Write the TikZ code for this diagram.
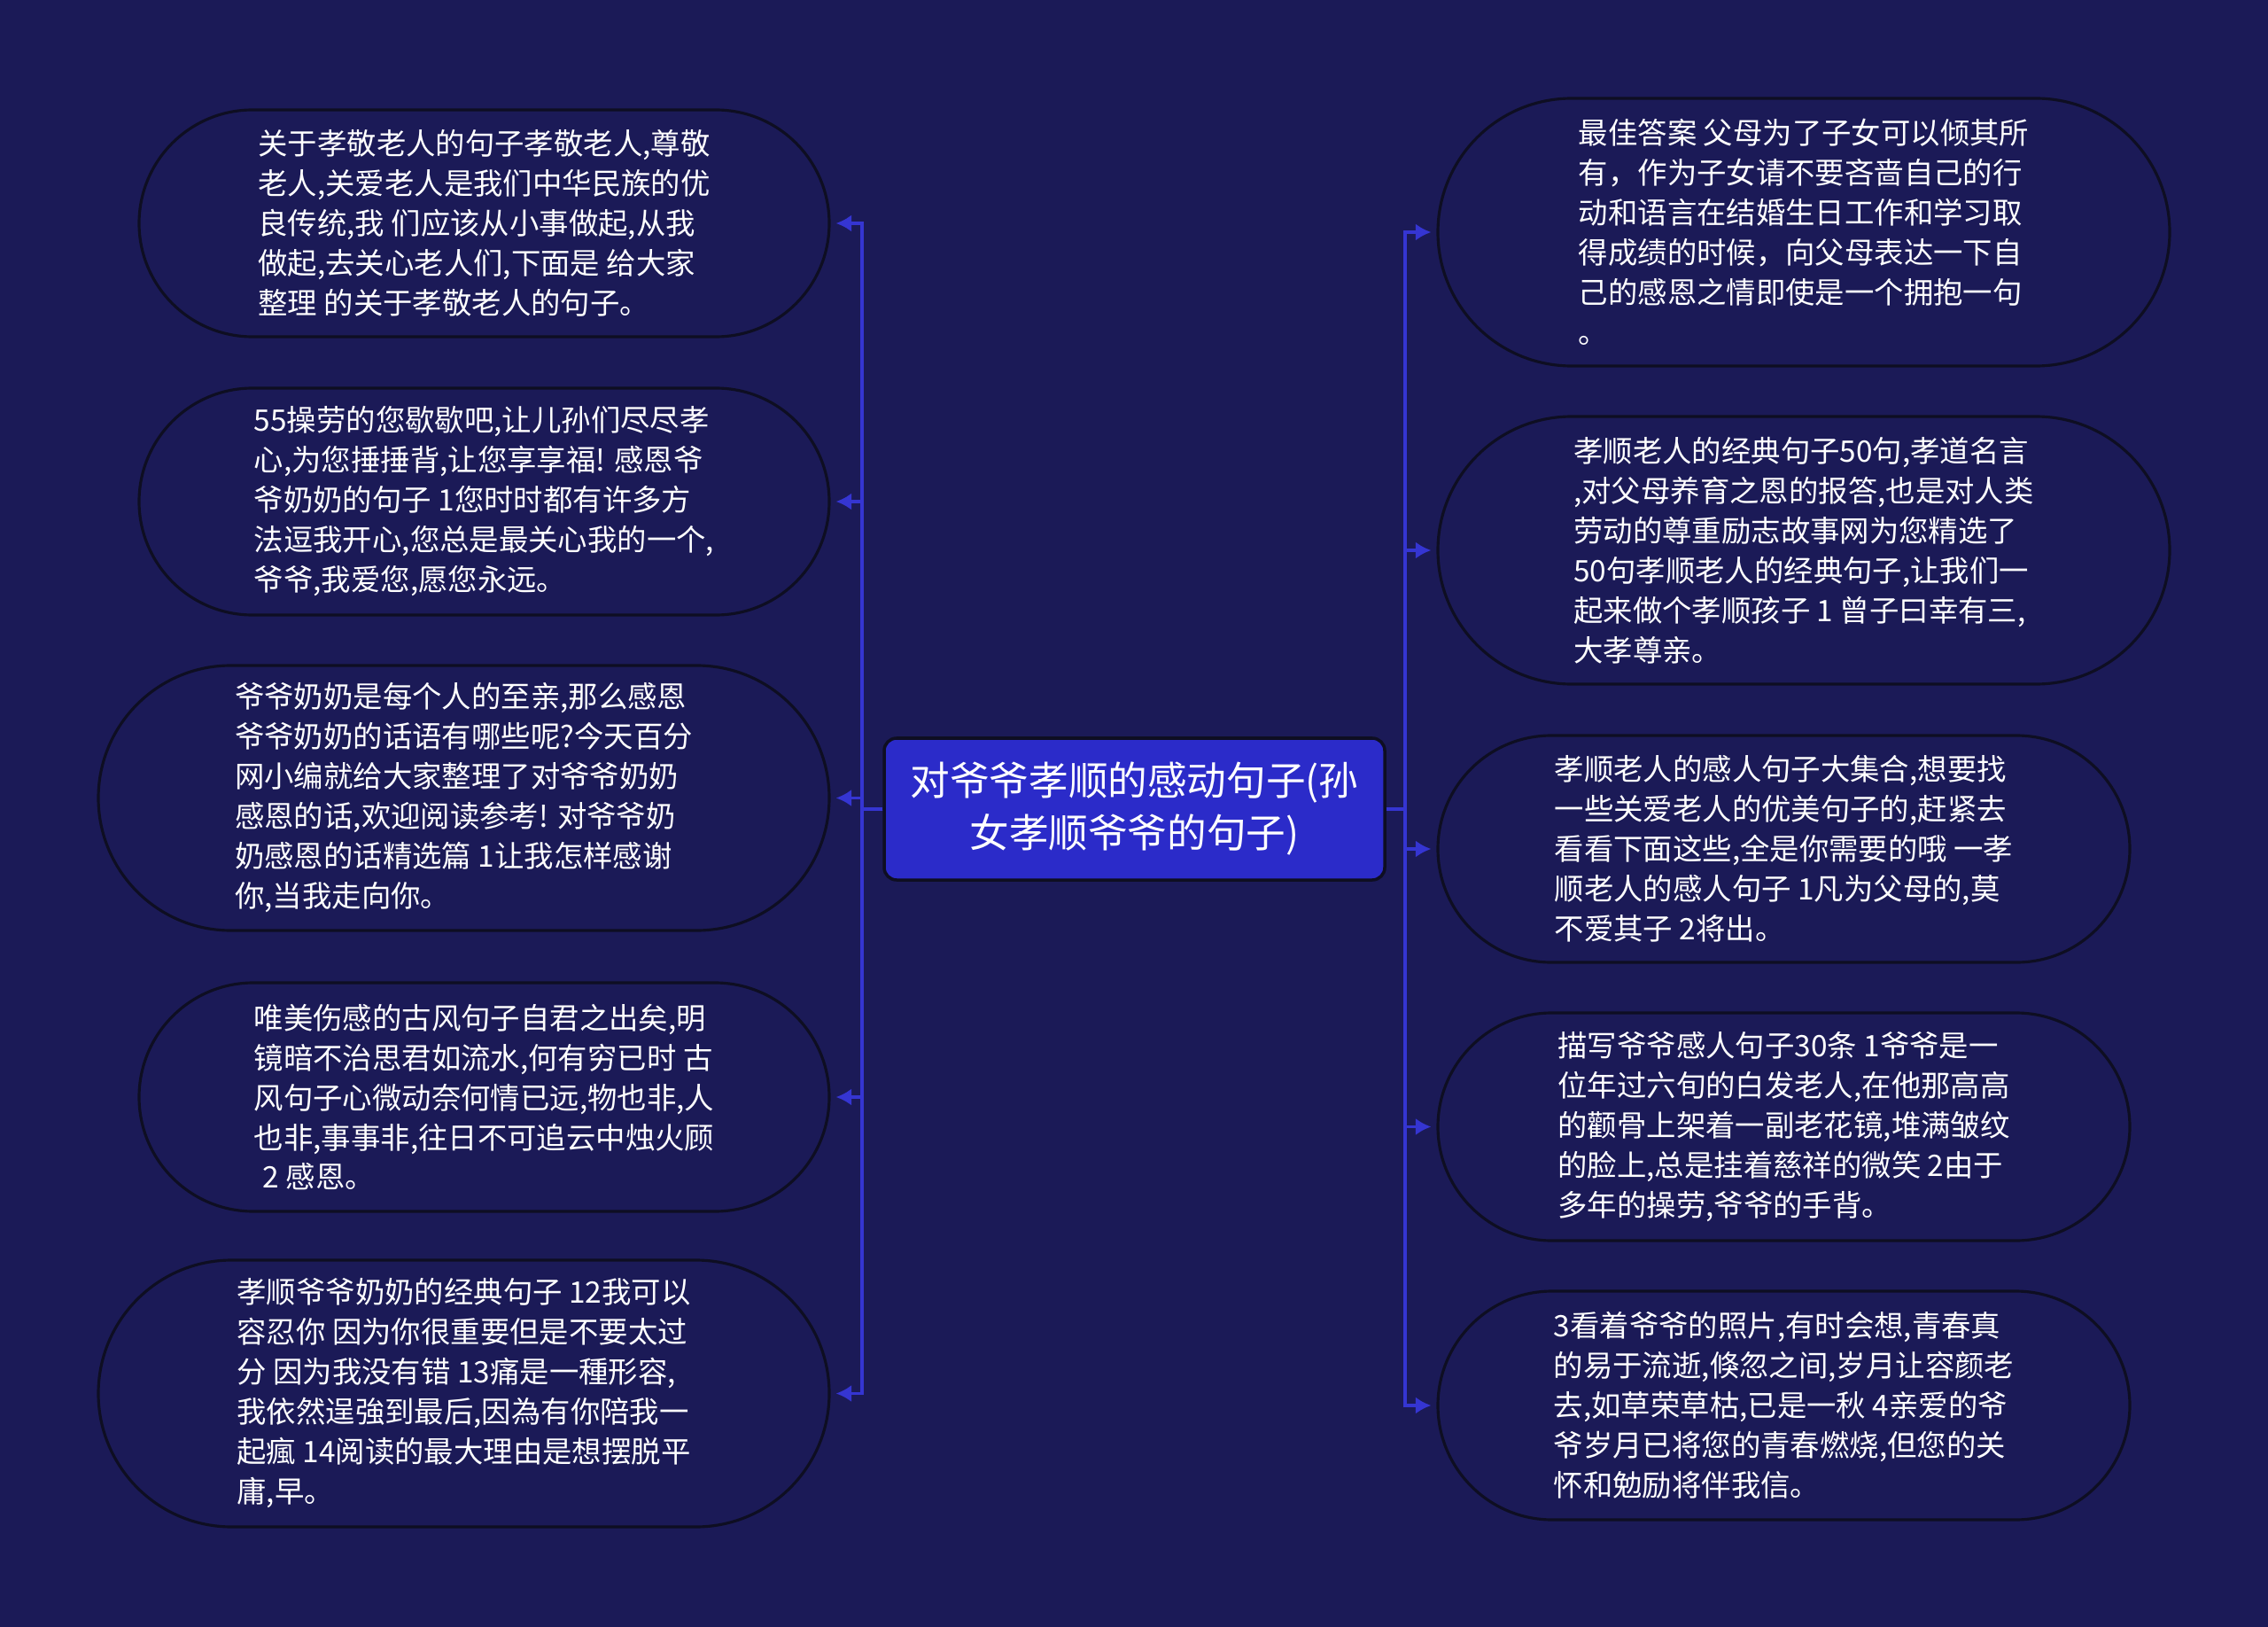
\documentclass[tikz,border=0pt]{standalone}
\usepackage{fontspec}
\usepackage{tikz}
\usetikzlibrary{shapes.misc, arrows.meta, positioning}
\newfontfamily\cjk{Noto Sans CJK SC}
\definecolor{shutubg}{HTML}{1B1A57}
\definecolor{shutublue}{HTML}{2B2BC9}
\definecolor{shutuarrow}{HTML}{3535D2}
\definecolor{shutuline}{HTML}{0E0E22}

\begin{document}
\begin{tikzpicture}[
  root/.style={draw=shutuline, fill=shutublue, rounded corners=4pt, minimum width=5.65cm, minimum height=1.6cm, align=center, text=white, font=\cjk\fontsize{12.7}{16.8}\selectfont, line width=1pt},
  leaf/.style={rounded rectangle, draw=shutuline, fill=shutubg, align=left, text=white, font=\cjk\fontsize{9.5}{12.8}\selectfont, line width=0.9pt, inner sep=0pt},
  arrow/.style={-{Latex[length=5pt,width=5.5pt]}, shutuarrow, line width=1.1pt, shorten >=0.6mm}
]
\fill[shutubg] (0,0) rectangle (25.6,-18.36);
\useasboundingbox (0,0) rectangle (25.6,-18.36);

\node[root] (root) at (12.805,-9.13) {对爷爷孝顺的感动句子(孙\\女孝顺爷爷的句子)};

\node[leaf, minimum width=7.79cm, minimum height=2.56cm] (l1) at (5.465,-2.52) {关于孝敬老人的句子孝敬老人,尊敬\\老人,关爱老人是我们中华民族的优\\良传统,我 们应该从小事做起,从我\\做起,去关心老人们,下面是 给大家\\整理 的关于孝敬老人的句子。};
\node[leaf, minimum width=7.79cm, minimum height=2.56cm] (l2) at (5.465,-5.66) {55操劳的您歇歇吧,让儿孙们尽尽孝\\心,为您捶捶背,让您享享福! 感恩爷\\爷奶奶的句子 1您时时都有许多方\\法逗我开心,您总是最关心我的一个,\\爷爷,我爱您,愿您永远。};
\node[leaf, minimum width=8.25cm, minimum height=2.99cm] (l3) at (5.235,-9.005) {爷爷奶奶是每个人的至亲,那么感恩\\爷爷奶奶的话语有哪些呢?今天百分\\网小编就给大家整理了对爷爷奶奶\\感恩的话,欢迎阅读参考! 对爷爷奶\\奶感恩的话精选篇 1让我怎样感谢\\你,当我走向你。};
\node[leaf, minimum width=7.79cm, minimum height=2.58cm] (l4) at (5.465,-12.38) {唯美伤感的古风句子自君之出矣,明\\镜暗不治思君如流水,何有穷已时 古\\风句子心微动奈何情已远,物也非,人\\也非,事事非,往日不可追云中烛火顾\\\hspace*{0.3em}2 感恩。};
\node[leaf, minimum width=8.25cm, minimum height=3.01cm] (l5) at (5.235,-15.725) {孝顺爷爷奶奶的经典句子 12我可以\\容忍你 因为你很重要但是不要太过\\分 因为我没有错 13痛是一種形容,\\我依然逞強到最后,因為有你陪我一\\起瘋 14阅读的最大理由是想摆脱平\\庸,早。};

\node[leaf, minimum width=8.26cm, minimum height=3.02cm] (r1) at (20.36,-2.62) {最佳答案 父母为了子女可以倾其所\\有，作为子女请不要吝啬自己的行\\动和语言在结婚生日工作和学习取\\得成绩的时候，向父母表达一下自\\己的感恩之情即使是一个拥抱一句\\。};
\node[leaf, minimum width=8.26cm, minimum height=3.02cm] (r2) at (20.36,-6.21) {孝顺老人的经典句子50句,孝道名言\\,对父母养育之恩的报答,也是对人类\\劳动的尊重励志故事网为您精选了\\50句孝顺老人的经典句子,让我们一\\起来做个孝顺孩子 1 曾子曰幸有三,\\大孝尊亲。};
\node[leaf, minimum width=7.81cm, minimum height=2.56cm] (r3) at (20.135,-9.58) {孝顺老人的感人句子大集合,想要找\\一些关爱老人的优美句子的,赶紧去\\看看下面这些,全是你需要的哦 一孝\\顺老人的感人句子 1凡为父母的,莫\\不爱其子 2将出。};
\node[leaf, minimum width=7.81cm, minimum height=2.57cm] (r4) at (20.135,-12.715) {描写爷爷感人句子30条 1爷爷是一\\位年过六旬的白发老人,在他那高高\\的颧骨上架着一副老花镜,堆满皱纹\\的脸上,总是挂着慈祥的微笑 2由于\\多年的操劳,爷爷的手背。};
\node[leaf, minimum width=7.81cm, minimum height=2.58cm] (r5) at (20.135,-15.86) {3看着爷爷的照片,有时会想,青春真\\的易于流逝,倏忽之间,岁月让容颜老\\去,如草荣草枯,已是一秋 4亲爱的爷\\爷岁月已将您的青春燃烧,但您的关\\怀和勉励将伴我信。};

\foreach \n in {l1,l2,l3,l4,l5}
  \draw[arrow] (root.west) -- ++(-0.23,0) |- (\n.east);
\foreach \n in {r1,r2,r3,r4,r5}
  \draw[arrow] (root.east) -- ++(0.21,0) |- (\n.west);
\end{tikzpicture}
\end{document}
